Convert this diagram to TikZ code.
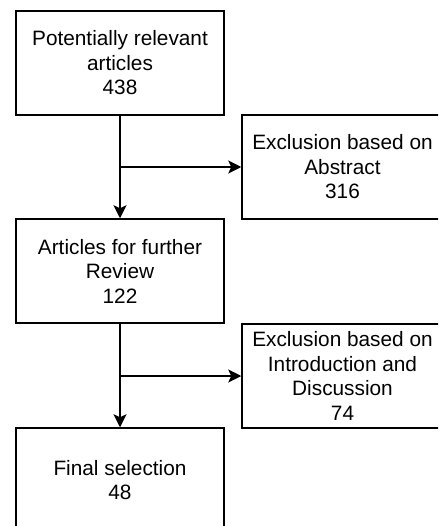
\documentclass[tikz,border=0pt]{standalone}
\usepackage{fontspec}
\setmainfont{Liberation Sans}
\usetikzlibrary{arrows.meta}

\begin{document}
\begin{tikzpicture}[x=1pt, y=-1pt, line width=1.5pt,
    stage/.style={draw, rectangle, align=center, inner sep=0pt,
      minimum width=208pt, minimum height=104pt,
      font=\fontsize{20.8}{24.5}\selectfont},
    excl/.style={stage, minimum width=201pt},
    flow/.style={-{Stealth[length=13pt, width=13pt, inset=3pt]}}]
        \useasboundingbox (0,0) rectangle (438,526);
        \clip (0,0) rectangle (438,526);

        \node[stage] (pot) at (120,63) {Potentially relevant\\articles\\438};
        \node[excl] (abs) at (342.5,167) {Exclusion based on\\Abstract\\316};
        \node[stage] (rev) at (120,271) {Articles for further\\Review\\122};
        \node[excl] (intro) at (342.5,376) {Exclusion based on\\Introduction and\\Discussion\\74};
        \node[stage] (fin) at (120,480) {Final selection\\48};

        \coordinate (b1) at (120,167);
        \coordinate (b2) at (120,376);

        \draw[flow] (pot) -- (rev);
        \draw[flow] (b1) -- (abs);
        \draw[flow] (rev) -- (fin);
        \draw[flow] (b2) -- (intro);

\end{tikzpicture}
\end{document}
